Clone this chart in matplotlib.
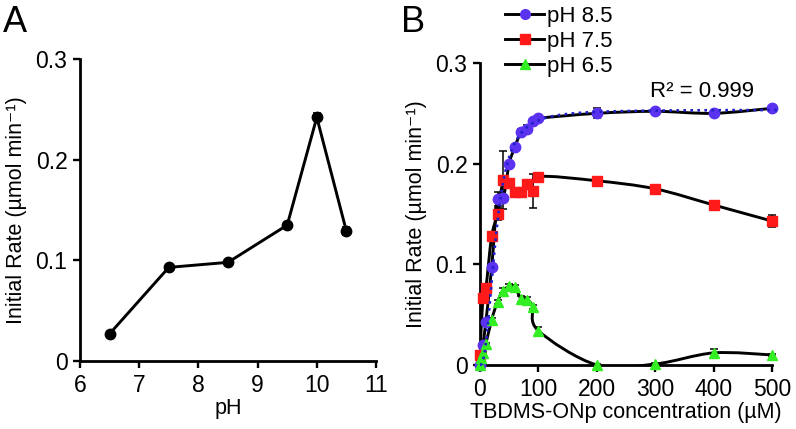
import matplotlib
matplotlib.use('Agg')
import numpy as np
import matplotlib.pyplot as plt
from matplotlib.path import Path
from matplotlib.patches import PathPatch
from matplotlib.lines import Line2D

plt.rcParams['font.family'] = ['Liberation Sans', 'DejaVu Sans']

# Panel A: initial rate vs pH
ph = [6.5, 7.5, 8.5, 9.5, 10.0, 10.5]
rate_ph = [0.027, 0.093, 0.098, 0.135, 0.242, 0.129]
err_ph = [0.001, 0.002, 0.002, 0.002, 0.004, 0.004]

# Panel B: initial rate vs TBDMS-ONp concentration
conc_85 = [0, 5, 10, 20, 30, 40, 50, 60, 70, 80, 90, 100, 200, 300, 400, 500]
rate_85 = [0.0, 0.02, 0.043, 0.097, 0.165, 0.166, 0.200, 0.217, 0.231, 0.234,
           0.242, 0.245, 0.250, 0.252, 0.250, 0.255]
err_85 = [0.001, 0.002, 0.002, 0.002, 0.007, 0.002, 0.002, 0.002, 0.003, 0.004,
          0.002, 0.002, 0.005, 0.002, 0.002, 0.002]

conc_75 = [0, 5, 10, 20, 30, 40, 50, 60, 70, 80, 90, 100, 200, 300, 400, 500]
rate_75 = [0.010, 0.067, 0.076, 0.128, 0.150, 0.184, 0.181, 0.172, 0.172, 0.180,
           0.173, 0.187, 0.183, 0.175, 0.159, 0.143]
err_75 = [0.001, 0.002, 0.002, 0.002, 0.006, 0.029, 0.002, 0.002, 0.002, 0.003,
          0.017, 0.003, 0.002, 0.002, 0.002, 0.006]

conc_65 = [0, 2, 5, 10, 20, 30, 40, 50, 60, 70, 80, 90, 100, 200, 300, 400, 500]
rate_65 = [0.0, 0.007, 0.012, 0.021, 0.045, 0.063, 0.074, 0.078, 0.077, 0.066,
           0.065, 0.058, 0.034, 0.0, 0.001, 0.012, 0.010]
err_65 = [0.001, 0.001, 0.001, 0.001, 0.002, 0.002, 0.002, 0.002, 0.002, 0.003,
          0.003, 0.002, 0.004, 0.001, 0.001, 0.004, 0.001]

# fitted curve parameters for pH 8.5 (R^2 = 0.999)
vmax_fit = 0.2535
k_fit = 27.0
n_fit = 2.4

c_blue = '#5a32f0'
c_red = '#ff1a1a'
c_green = '#33ee22'


def smooth_path(x, y):
    # Excel-like smoothed line (Catmull-Rom as cubic Bezier)
    pts = np.column_stack([x, y]).astype(float)
    verts = [pts[0]]
    codes = [Path.MOVETO]
    for i in range(len(pts) - 1):
        p0 = pts[i - 1] if i > 0 else pts[i]
        p1 = pts[i]
        p2 = pts[i + 1]
        p3 = pts[i + 2] if i + 2 < len(pts) else pts[i + 1]
        verts += [p1 + (p2 - p0) / 6.0, p2 - (p3 - p1) / 6.0, p2]
        codes += [Path.CURVE4] * 3
    return Path(verts, codes)


def style_axes(ax):
    for s in ['top', 'right']:
        ax.spines[s].set_visible(False)
    for s in ['left', 'bottom']:
        ax.spines[s].set_linewidth(2.0)
    ax.tick_params(direction='out', length=5, width=1.7, labelsize=16.5, pad=4)


fig = plt.figure(figsize=(7.96, 4.29), dpi=100)

# ---- Panel A ----
axA = fig.add_axes([80 / 796, 1 - 361 / 429, 296 / 796, 302 / 429])
axA.errorbar(ph, rate_ph, yerr=err_ph, color='black', lw=2.1, marker='o',
             ms=7.5, capsize=3, elinewidth=1.2, capthick=1.2, clip_on=False)
axA.set_xlim(6, 11)
axA.set_ylim(0, 0.3)
axA.set_xticks([6, 7, 8, 9, 10, 11])
axA.set_yticks([0, 0.1, 0.2, 0.3])
axA.set_yticklabels(['0', '0.1', '0.2', '0.3'])
axA.set_xlabel('pH', fontsize=15.5, labelpad=1)
axA.set_ylabel('Initial Rate (µmol min⁻¹)', fontsize=15.5, labelpad=6)
style_axes(axA)

# ---- Panel B ----
axB = fig.add_axes([480 / 796, 1 - 365 / 429, 292 / 796, 302 / 429])
series = [
    (conc_85, rate_85, err_85, c_blue, 'o', 7.5, 'pH 8.5'),
    (conc_75, rate_75, err_75, c_red, 's', 7.5, 'pH 7.5'),
    (conc_65, rate_65, err_65, c_green, '^', 7.5, 'pH 6.5'),
]
for x, y, e, col, mk, ms, lab in series:
    axB.add_patch(PathPatch(smooth_path(x, y), fill=False, ec='black', lw=2.1,
                            zorder=2))
for x, y, e, col, mk, ms, lab in series:
    axB.errorbar(x, y, yerr=e, fmt='none', ecolor='black', elinewidth=1.1,
                 capsize=3, capthick=1.1, zorder=3, clip_on=False)
    axB.plot(x, y, ls='none', marker=mk, ms=ms, mfc=col, mec=col, zorder=4,
             clip_on=False)

xfit = np.linspace(0, 510, 400)
yfit = vmax_fit * xfit ** n_fit / (k_fit ** n_fit + xfit ** n_fit)
axB.plot(xfit, yfit, ls=':', color='#2020c8', lw=1.9, zorder=5, clip_on=False)

axB.text(291, 0.266, 'R² = 0.999', fontsize=16, ha='left', va='baseline')
axB.set_xlim(0, 500)
axB.set_ylim(0, 0.3)
axB.set_xticks([0, 100, 200, 300, 400, 500])
axB.set_yticks([0, 0.1, 0.2, 0.3])
axB.set_yticklabels(['0', '0.1', '0.2', '0.3'])
axB.set_xlabel('TBDMS-ONp concentration (µM)', fontsize=15.5, labelpad=1)
axB.set_ylabel('Initial Rate (µmol min⁻¹)', fontsize=15.5, labelpad=6)
style_axes(axB)

handles = [Line2D([], [], color='black', lw=2.1, marker=mk, ms=7, mfc=col, mec=col)
           for _, _, _, col, mk, _, _ in series]
labels = [s[6] for s in series]
fig.legend(handles, labels, loc='upper left', bbox_to_anchor=(503 / 796, 0.992),
           frameon=False, fontsize=16, handlelength=1.75, handletextpad=0.15,
           labelspacing=0.18, borderaxespad=0, borderpad=0.1)

fig.text(3 / 796, 1 - 32 / 429, 'A', fontsize=26, ha='left', va='baseline')
fig.text(401 / 796, 1 - 32 / 429, 'B', fontsize=26, ha='left', va='baseline')

plt.savefig('out.png', dpi=100)
